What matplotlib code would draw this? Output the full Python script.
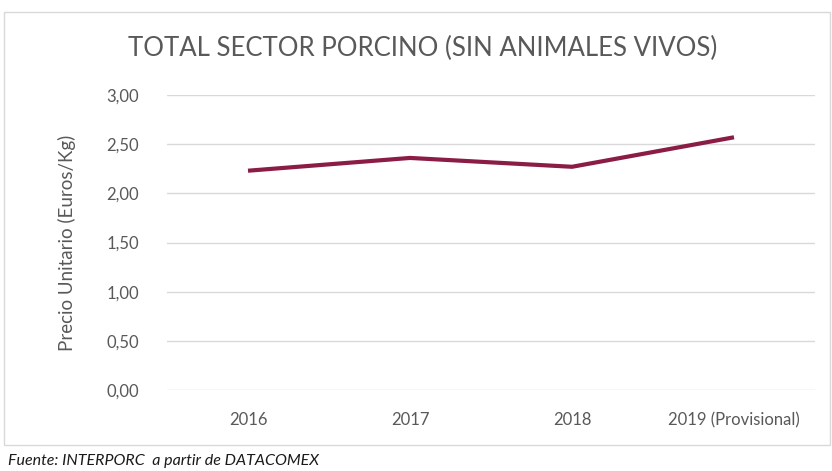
import matplotlib.pyplot as plt
from matplotlib.patches import Rectangle

# Data
years = ['2016', '2017', '2018', '2019 (Provisional)']
precio = [2.23, 2.36, 2.27, 2.57]
yticks = [0.0, 0.5, 1.0, 1.5, 2.0, 2.5, 3.0]

plt.rcParams['font.family'] = ['Lato', 'DejaVu Sans']

W, H = 832, 471
fig = plt.figure(figsize=(W / 100, H / 100), dpi=100)
fig.patch.set_facecolor('white')

# chart frame
fig.patches.append(Rectangle((4 / W, 1 - 445 / H), 826 / W, 433 / H, transform=fig.transFigure,
                             fill=False, edgecolor='#d9d9d9', linewidth=1))

ax = fig.add_axes([167 / W, 1 - 390 / H, (815 - 167) / W, (390 - 95) / H])
x = list(range(len(years)))
ax.plot(x, precio, color='#8b1c45', linewidth=3, solid_capstyle='butt')

ax.set_xlim(-0.5, len(years) - 0.5)
ax.set_ylim(0, 3)
ax.set_yticks(yticks)
ax.set_yticklabels([f'{v:.2f}'.replace('.', ',') for v in yticks])
ax.set_xticks(x)
ax.set_xticklabels(years)
ax.grid(axis='y', color='#d9d9d9', linewidth=1)
ax.set_axisbelow(True)
for s in ax.spines.values():
    s.set_visible(False)
ax.tick_params(length=0, labelsize=12, colors='#595959', pad=16)
ax.tick_params(axis='y', pad=20)
ax.set_ylabel('Precio Unitario (Euros/Kg)', fontsize=13.5, color='#595959', labelpad=22)

fig.text(423 / W, 1 - 48 / H, 'TOTAL SECTOR PORCINO (SIN ANIMALES VIVOS)', ha='center', va='center',
         fontsize=18.5, color='#595959')
fig.text(8 / W, 1 - 461 / H, 'Fuente: INTERPORC  a partir de DATACOMEX', ha='left', va='center',
         fontsize=11.5, style='italic', color='#1a1a1a')

fig.savefig('out.png', dpi=100)
